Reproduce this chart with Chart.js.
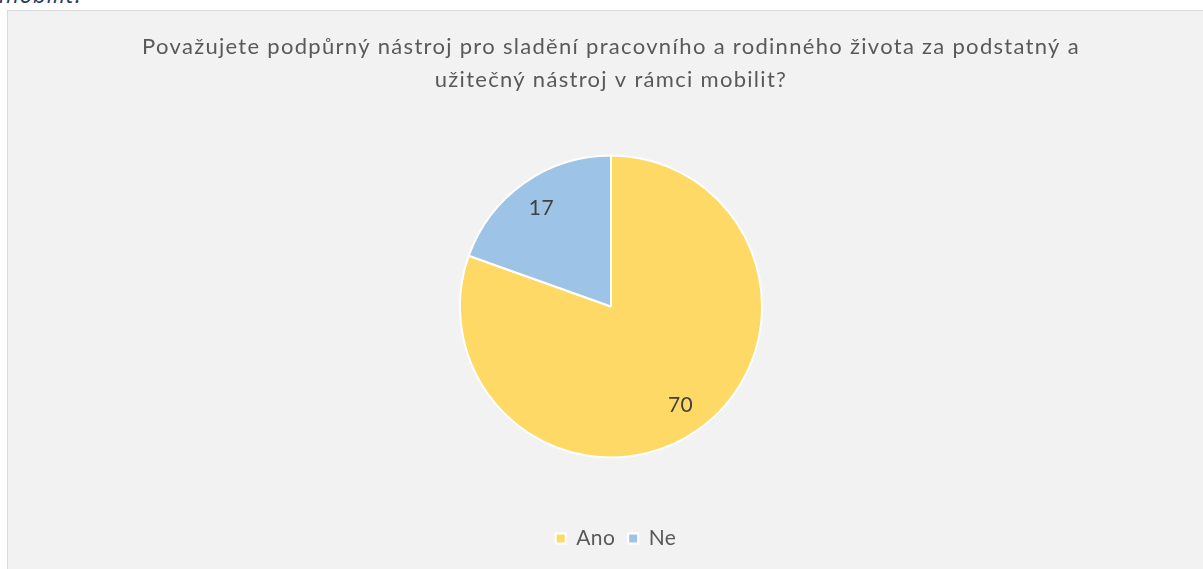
<!DOCTYPE html>
<html>
<head>
<meta charset="utf-8">
<script src="https://cdn.jsdelivr.net/npm/chart.js@4.4.0/dist/chart.umd.min.js"></script>
<style>
  html, body { margin: 0; padding: 0; background: #ffffff; width: 1203px; height: 569px; overflow: hidden; }
  #cut { position: absolute; left: -1px; top: -17px; font-family: "Open Sans", sans-serif; font-style: italic; font-size: 23px; letter-spacing: 0.5px; color: #1f3864; line-height: 23px; white-space: nowrap; }
  #box { position: absolute; left: 7px; top: 10px; width: 1210px; height: 570px; background: #f2f2f2; border: 1px solid #d9d9d9; box-sizing: border-box; }
  #wrap { position: absolute; left: 1px; top: 1px; width: 1196px; height: 558px; }
</style>
</head>
<body>
<div id="cut">mobilit?</div>
<div id="box">
  <div id="wrap"><canvas id="c"></canvas></div>
</div>
<script>
const titleLines = ["Považujete podpůrný nástroj pro sladění pracovního a rodinného života za podstatný a", "užitečný nástroj v rámci mobilit?"];
const categories = ["Ano", "Ne"];
const values = [70, 17];
const colors = ["#FFD966", "#9DC3E6"];

const LEGEND_SPACING = '0.4px';
const spacingPlugin = {
  id: 'textSpacing',
  beforeUpdate(chart) { chart.ctx.letterSpacing = LEGEND_SPACING; },
  afterLayout(chart) {
    const lg = chart.legend;
    if (lg) { lg.left += 5; lg.right += 5; }
  },
  beforeDraw(chart) {
    chart.ctx.letterSpacing = LEGEND_SPACING;
    const t = chart.titleBlock;
    if (t && !t._spaced) {
      const orig = t.draw.bind(t);
      t.draw = function () {
        chart.ctx.letterSpacing = '1.3px';
        orig();
        chart.ctx.letterSpacing = LEGEND_SPACING;
      };
      t._spaced = true;
    }
  }
};

const labelPlugin = {
  id: 'sliceLabels',
  afterDatasetsDraw(chart) {
    const ctx = chart.ctx;
    const meta = chart.getDatasetMeta(0);
    ctx.save();
    ctx.letterSpacing = '0.5px';
    ctx.font = '21px Lato, sans-serif';
    ctx.fillStyle = '#404040';
    ctx.textAlign = 'center';
    ctx.textBaseline = 'middle';
    meta.data.forEach((arc, i) => {
      const p = arc.getProps(['x','y','startAngle','endAngle','outerRadius'], true);
      const mid = (p.startAngle + p.endAngle) / 2;
      const r = p.outerRadius * 0.8;
      ctx.fillText(String(values[i]), p.x + Math.cos(mid) * r, p.y + Math.sin(mid) * r);
    });
    ctx.restore();
  }
};

new Chart(document.getElementById('c'), {
  type: 'pie',
  data: {
    labels: categories,
    datasets: [{ data: values, backgroundColor: colors, borderColor: '#ffffff', borderWidth: 2, radius: 151 }]
  },
  options: {
    responsive: true,
    maintainAspectRatio: false,
    animation: false,
    layout: { padding: { left: 8, right: 0, top: 0, bottom: 11 } },
    plugins: {
      title: {
        display: true,
        text: titleLines,
        color: '#595959',
        font: { family: 'Lato, sans-serif', size: 22, weight: 'normal', lineHeight: 1.5 },
        padding: { top: 18.5, bottom: 1.5 }
      },
      legend: {
        display: true,
        position: 'bottom',
        labels: {
          color: '#595959',
          font: { family: 'Lato, sans-serif', size: 21 },
          boxWidth: 10, boxHeight: 10, padding: 13
        }
      },
      tooltip: { enabled: false }
    }
  },
  plugins: [spacingPlugin, labelPlugin]
});
</script>
</body>
</html>
